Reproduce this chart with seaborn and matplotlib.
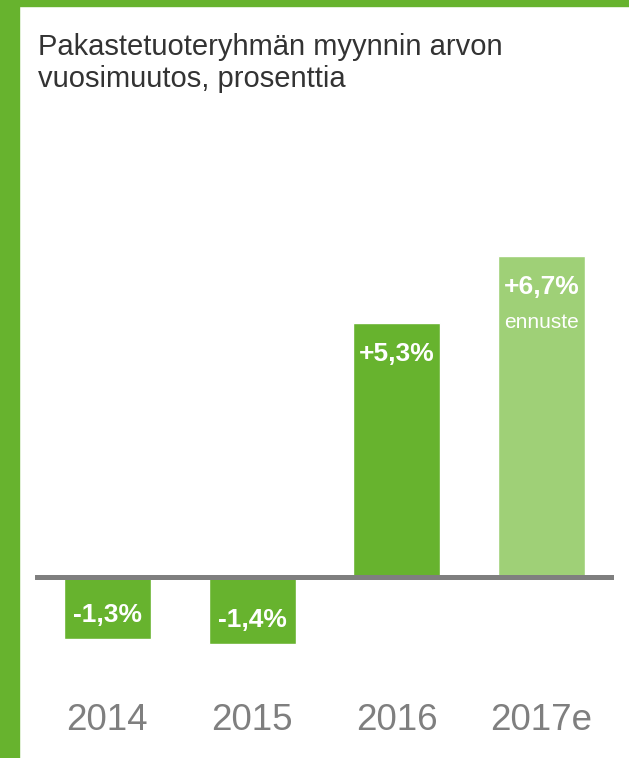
import matplotlib
matplotlib.use('Agg')
import matplotlib.pyplot as plt
import pandas as pd
import seaborn as sns
from matplotlib.patches import Rectangle

YEARS = ['2014', '2015', '2016', '2017e']
CHANGE = [-1.3, -1.4, 5.3, 6.7]
LABELS = ['-1,3%', '-1,4%', '+5,3%', '+6,7%']
FORECAST = [False, False, False, True]
TITLE_LINES = ['Pakastetuoteryhmän myynnin arvon', 'vuosimuutos, prosenttia']

GREEN = '#67b32e'
LIGHT_GREEN = '#9fd077'
GREY = '#7f7f7f'

W, H = 629, 758


def main() -> None:
    sns.set_style('white')
    plt.rcParams['font.family'] = ['Liberation Sans', 'DejaVu Sans']

    df = pd.DataFrame({'year': YEARS, 'change': CHANGE, 'label': LABELS, 'forecast': FORECAST})
    palette = [LIGHT_GREEN if f else GREEN for f in df['forecast']]

    fig = plt.figure(figsize=(W / 100, H / 100), dpi=100)

    # green frame of the source slide
    fig.patches.append(Rectangle((0, 0), 19 / W, 1, transform=fig.transFigure, color=GREEN, zorder=0))
    fig.patches.append(Rectangle((0, 1 - 6 / H), 1, 6 / H, transform=fig.transFigure, color=GREEN, zorder=0))

    top_px, bottom_px = 194, 692
    ax = fig.add_axes([35 / W, (H - bottom_px) / H, 579 / W, (bottom_px - top_px) / H])
    sns.barplot(data=df, x='year', y='change', hue='year', palette=palette, legend=False,
                width=0.6, saturation=1, ax=ax)
    ax.set_xlim(-0.5, 3.5)
    ax.set_ylim(-2.4, 8.0)
    ax.axhline(0, color=GREY, lw=3.6, zorder=5)

    for i, row in df.iterrows():
        offset = 17.3 if row['change'] < 0 else -22.3
        ax.annotate(row['label'], (i, row['change']), xytext=(0, offset), textcoords='offset points',
                    ha='center', va='center', color='white', fontsize=19, fontweight='bold')
        if row['forecast']:
            ax.annotate('ennuste', (i, row['change']), xytext=(0, -47.5), textcoords='offset points',
                        ha='center', va='center', color='white', fontsize=15)

    sns.despine(ax=ax, left=True, bottom=True)
    ax.set(xlabel=None, ylabel=None, yticks=[])
    ax.tick_params(axis='x', length=0, pad=8, labelsize=26.5, labelcolor=GREY)

    for line, baseline in zip(TITLE_LINES, [55, 87]):
        fig.text(38 / W, 1 - baseline / H, line, ha='left', va='baseline', fontsize=21, color='#333333')

    fig.savefig('out.png', dpi=100)


if __name__ == '__main__':
    main()
